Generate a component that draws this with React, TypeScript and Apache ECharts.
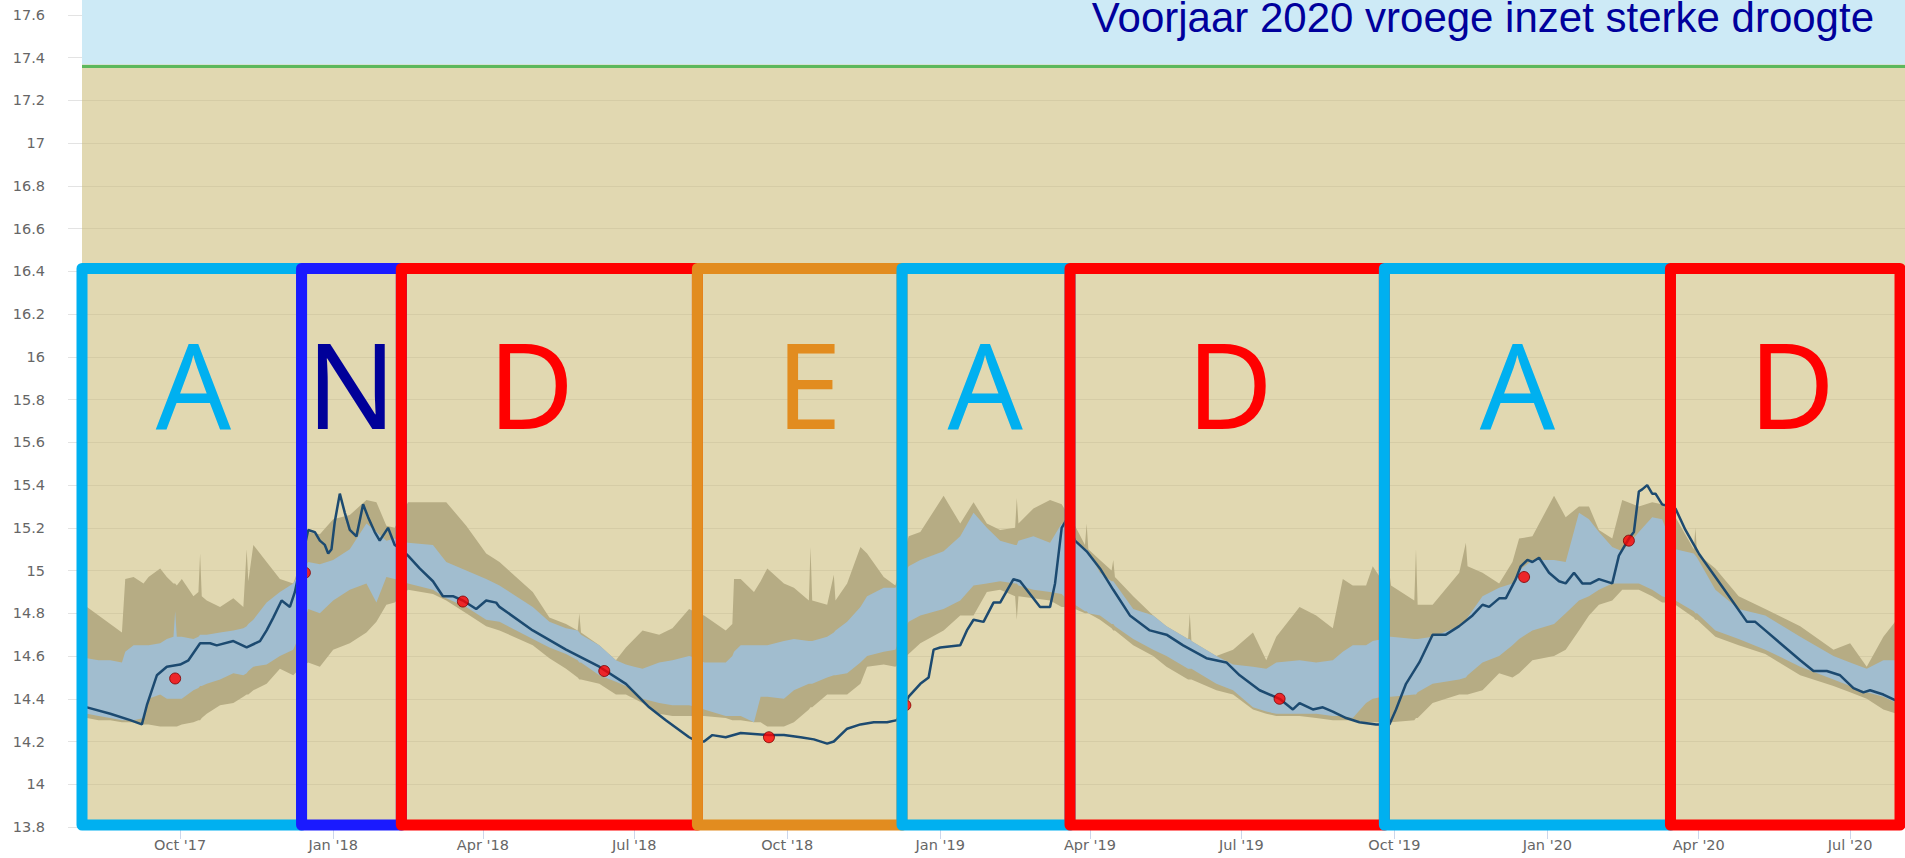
import React, { useEffect, useRef } from "react";
import * as echarts from "echarts";

// ---------- axis ranges ----------
const xStart = "2017-08-03";
const xEnd = "2020-08-03";
const yMin = 13.8;
const yMax = 17.67;
const yStep = 0.2;

// ---------- x tick labels ----------
const tickDates = [
  "2017-10-01", "2018-01-01", "2018-04-01", "2018-07-01", "2018-10-01", "2019-01-01",
  "2019-04-01", "2019-07-01", "2019-10-01", "2020-01-01", "2020-04-01", "2020-07-01",
];
const tickLabels = [
  "Oct '17", "Jan '18", "Apr '18", "Jul '18", "Oct '18", "Jan '19",
  "Apr '19", "Jul '19", "Oct '19", "Jan '20", "Apr '20", "Jul '20",
];

// ---------- reference levels ----------
const surfaceLevel = 17.357;
const aboveSurfaceFrom = 17.368;
const gapLevel = 17.364;

const titleText = "Voorjaar 2020 vroege inzet sterke droogte";

// ---------- bands: [date, outerLow, innerLow, innerHigh, outerHigh] ----------
const bandRows: [string, number, number, number, number][] = [
  ["2017-08-03", 14.31, 14.33, 14.59, 14.84],
  ["2017-08-06", 14.31, 14.33, 14.59, 14.83],
  ["2017-08-13", 14.30, 14.32, 14.58, 14.79],
  ["2017-08-20", 14.30, 14.31, 14.58, 14.75],
  ["2017-08-27", 14.29, 14.30, 14.57, 14.71],
  ["2017-08-29", 14.29, 14.30, 14.62, 14.96],
  ["2017-09-03", 14.29, 14.30, 14.65, 14.97],
  ["2017-09-09", 14.28, 14.31, 14.65, 14.94],
  ["2017-09-12", 14.28, 14.40, 14.65, 14.97],
  ["2017-09-19", 14.27, 14.42, 14.66, 15.01],
  ["2017-09-23", 14.27, 14.40, 14.68, 14.97],
  ["2017-09-27", 14.27, 14.40, 14.69, 14.94],
  ["2017-09-28", 14.27, 14.40, 14.81, 14.94],
  ["2017-09-29", 14.27, 14.40, 14.69, 14.93],
  ["2017-10-02", 14.28, 14.40, 14.69, 14.96],
  ["2017-10-09", 14.29, 14.44, 14.68, 14.88],
  ["2017-10-12", 14.30, 14.45, 14.69, 14.90],
  ["2017-10-13", 14.30, 14.46, 14.70, 15.08],
  ["2017-10-14", 14.31, 14.46, 14.70, 14.88],
  ["2017-10-17", 14.33, 14.47, 14.70, 14.86],
  ["2017-10-25", 14.37, 14.49, 14.71, 14.83],
  ["2017-11-02", 14.38, 14.52, 14.72, 14.87],
  ["2017-11-08", 14.41, 14.51, 14.73, 14.83],
  ["2017-11-10", 14.42, 14.52, 14.74, 15.10],
  ["2017-11-11", 14.42, 14.53, 14.75, 14.95],
  ["2017-11-14", 14.44, 14.55, 14.77, 15.12],
  ["2017-11-22", 14.47, 14.56, 14.85, 15.04],
  ["2017-11-30", 14.54, 14.60, 14.90, 14.96],
  ["2017-12-08", 14.51, 14.63, 14.94, 14.94],
  ["2017-12-13", 14.55, 14.72, 15.00, 15.05],
  ["2017-12-17", 14.57, 14.82, 15.04, 15.18],
  ["2017-12-24", 14.55, 14.80, 15.03, 15.17],
  ["2018-01-01", 14.63, 14.86, 15.05, 15.24],
  ["2018-01-11", 14.66, 14.91, 15.10, 15.26],
  ["2018-01-21", 14.71, 14.94, 15.22, 15.33],
  ["2018-01-27", 14.76, 14.85, 15.18, 15.32],
  ["2018-02-02", 14.84, 14.97, 15.14, 15.21],
  ["2018-02-07", 14.85, 14.96, 15.15, 15.20],
  ["2018-02-11", 14.88, 14.95, 15.14, 15.26],
  ["2018-02-15", 14.91, 14.94, 15.13, 15.32],
  ["2018-03-02", 14.89, 14.91, 15.12, 15.32],
  ["2018-03-10", 14.86, 14.87, 15.04, 15.32],
  ["2018-03-22", 14.80, 14.83, 15.00, 15.21],
  ["2018-04-03", 14.74, 14.77, 14.96, 15.08],
  ["2018-04-11", 14.72, 14.76, 14.93, 15.04],
  ["2018-05-01", 14.65, 14.68, 14.83, 14.90],
  ["2018-05-11", 14.59, 14.64, 14.76, 14.78],
  ["2018-05-21", 14.54, 14.61, 14.73, 14.75],
  ["2018-05-28", 14.50, 14.58, 14.72, 14.72],
  ["2018-05-29", 14.49, 14.57, 14.71, 14.80],
  ["2018-05-30", 14.49, 14.57, 14.70, 14.71],
  ["2018-06-10", 14.47, 14.51, 14.65, 14.65],
  ["2018-06-20", 14.42, 14.48, 14.58, 14.58],
  ["2018-06-26", 14.42, 14.46, 14.56, 14.64],
  ["2018-07-01", 14.40, 14.44, 14.55, 14.68],
  ["2018-07-06", 14.38, 14.40, 14.54, 14.72],
  ["2018-07-16", 14.33, 14.38, 14.57, 14.70],
  ["2018-07-24", 14.32, 14.37, 14.58, 14.73],
  ["2018-08-03", 14.32, 14.37, 14.60, 14.82],
  ["2018-08-08", 14.32, 14.36, 14.59, 14.80],
  ["2018-08-12", 14.32, 14.35, 14.57, 14.79],
  ["2018-08-25", 14.31, 14.32, 14.57, 14.72],
  ["2018-08-29", 14.30, 14.32, 14.60, 14.75],
  ["2018-08-30", 14.30, 14.32, 14.62, 14.96],
  ["2018-09-03", 14.30, 14.32, 14.65, 14.96],
  ["2018-09-11", 14.29, 14.29, 14.65, 14.90],
  ["2018-09-15", 14.29, 14.41, 14.65, 14.95],
  ["2018-09-19", 14.27, 14.41, 14.65, 15.01],
  ["2018-09-29", 14.27, 14.40, 14.67, 14.94],
  ["2018-10-05", 14.29, 14.44, 14.68, 14.92],
  ["2018-10-14", 14.35, 14.47, 14.67, 14.86],
  ["2018-10-15", 14.36, 14.47, 14.67, 15.11],
  ["2018-10-16", 14.36, 14.47, 14.67, 14.86],
  ["2018-10-25", 14.42, 14.50, 14.69, 14.84],
  ["2018-10-29", 14.42, 14.51, 14.71, 14.98],
  ["2018-10-30", 14.42, 14.51, 14.72, 14.86],
  ["2018-11-06", 14.42, 14.52, 14.76, 14.94],
  ["2018-11-14", 14.47, 14.57, 14.83, 15.11],
  ["2018-11-18", 14.55, 14.60, 14.88, 15.08],
  ["2018-11-28", 14.56, 14.62, 14.92, 14.97],
  ["2018-12-05", 14.55, 14.63, 14.92, 14.93],
  ["2018-12-09", 14.58, 14.70, 14.97, 15.05],
  ["2018-12-13", 14.61, 14.76, 15.02, 15.16],
  ["2018-12-20", 14.66, 14.79, 15.05, 15.18],
  ["2019-01-03", 14.72, 14.82, 15.09, 15.35],
  ["2019-01-13", 14.79, 14.86, 15.16, 15.22],
  ["2019-01-21", 14.79, 14.93, 15.27, 15.32],
  ["2019-01-29", 14.90, 14.94, 15.20, 15.22],
  ["2019-02-06", 14.91, 14.95, 15.14, 15.19],
  ["2019-02-15", 14.88, 14.94, 15.12, 15.20],
  ["2019-02-16", 14.77, 14.94, 15.12, 15.34],
  ["2019-02-17", 14.88, 14.93, 15.14, 15.22],
  ["2019-02-26", 14.87, 14.91, 15.16, 15.29],
  ["2019-03-08", 14.86, 14.90, 15.13, 15.33],
  ["2019-03-15", 14.83, 14.89, 15.22, 15.31],
  ["2019-03-19", 14.83, 14.86, 15.18, 15.26],
  ["2019-03-23", 14.82, 14.84, 15.15, 15.21],
  ["2019-03-29", 14.80, 14.81, 15.10, 15.12],
  ["2019-03-30", 14.80, 14.81, 15.10, 15.22],
  ["2019-03-31", 14.80, 14.80, 15.09, 15.10],
  ["2019-04-07", 14.77, 14.79, 14.99, 15.05],
  ["2019-04-14", 14.73, 14.75, 14.95, 15.00],
  ["2019-04-15", 14.72, 14.75, 14.95, 15.05],
  ["2019-04-16", 14.72, 14.74, 14.94, 14.97],
  ["2019-04-27", 14.65, 14.68, 14.82, 14.88],
  ["2019-05-09", 14.60, 14.63, 14.79, 14.79],
  ["2019-05-17", 14.55, 14.60, 14.74, 14.74],
  ["2019-05-30", 14.49, 14.54, 14.68, 14.68],
  ["2019-05-31", 14.49, 14.54, 14.68, 14.80],
  ["2019-06-01", 14.49, 14.54, 14.67, 14.67],
  ["2019-06-16", 14.44, 14.47, 14.60, 14.60],
  ["2019-06-26", 14.42, 14.44, 14.56, 14.63],
  ["2019-07-08", 14.35, 14.36, 14.55, 14.71],
  ["2019-07-16", 14.33, 14.34, 14.54, 14.58],
  ["2019-07-22", 14.32, 14.33, 14.57, 14.69],
  ["2019-08-05", 14.32, 14.33, 14.58, 14.83],
  ["2019-08-15", 14.31, 14.33, 14.57, 14.79],
  ["2019-08-25", 14.30, 14.32, 14.58, 14.73],
  ["2019-08-31", 14.30, 14.32, 14.62, 14.96],
  ["2019-09-06", 14.30, 14.31, 14.65, 14.93],
  ["2019-09-14", 14.29, 14.38, 14.65, 14.93],
  ["2019-09-18", 14.29, 14.40, 14.67, 15.02],
  ["2019-09-24", 14.29, 14.41, 14.68, 14.95],
  ["2019-09-28", 14.29, 14.41, 14.69, 14.99],
  ["2019-09-29", 14.29, 14.41, 14.69, 14.93],
  ["2019-10-13", 14.30, 14.42, 14.68, 14.86],
  ["2019-10-14", 14.31, 14.42, 14.68, 15.10],
  ["2019-10-15", 14.31, 14.43, 14.68, 14.84],
  ["2019-10-24", 14.38, 14.47, 14.69, 14.84],
  ["2019-11-09", 14.42, 14.49, 14.74, 14.99],
  ["2019-11-13", 14.42, 14.50, 14.76, 15.13],
  ["2019-11-14", 14.42, 14.51, 14.78, 15.02],
  ["2019-11-23", 14.44, 14.57, 14.88, 14.99],
  ["2019-12-03", 14.52, 14.60, 14.92, 14.94],
  ["2019-12-11", 14.50, 14.65, 14.94, 15.04],
  ["2019-12-15", 14.52, 14.68, 15.00, 15.15],
  ["2019-12-23", 14.58, 14.72, 15.05, 15.16],
  ["2020-01-05", 14.60, 14.75, 15.05, 15.35],
  ["2020-01-12", 14.63, 14.80, 15.04, 15.25],
  ["2020-01-20", 14.72, 14.86, 15.27, 15.30],
  ["2020-01-26", 14.79, 14.88, 15.24, 15.30],
  ["2020-02-01", 14.84, 14.91, 15.18, 15.19],
  ["2020-02-09", 14.86, 14.94, 15.11, 15.15],
  ["2020-02-15", 14.91, 14.94, 15.09, 15.33],
  ["2020-02-25", 14.91, 14.94, 15.18, 15.30],
  ["2020-03-04", 14.88, 14.91, 15.25, 15.32],
  ["2020-03-10", 14.85, 14.88, 15.24, 15.31],
  ["2020-03-14", 14.85, 14.87, 15.16, 15.27],
  ["2020-03-18", 14.84, 14.86, 15.10, 15.25],
  ["2020-03-29", 14.78, 14.81, 15.08, 15.10],
  ["2020-03-30", 14.77, 14.80, 15.07, 15.20],
  ["2020-03-31", 14.77, 14.80, 15.06, 15.08],
  ["2020-04-11", 14.69, 14.72, 14.91, 15.01],
  ["2020-04-25", 14.65, 14.68, 14.82, 14.88],
  ["2020-05-11", 14.61, 14.63, 14.79, 14.82],
  ["2020-06-01", 14.51, 14.55, 14.69, 14.74],
  ["2020-06-21", 14.46, 14.49, 14.60, 14.63],
  ["2020-07-01", 14.43, 14.46, 14.57, 14.66],
  ["2020-07-11", 14.40, 14.43, 14.54, 14.55],
  ["2020-07-21", 14.35, 14.41, 14.58, 14.69],
  ["2020-07-29", 14.33, 14.38, 14.58, 14.77],
  ["2020-08-03", 14.32, 14.37, 14.59, 14.83],
];

// ---------- measured groundwater level ----------
const levelRows: [string, number][] = [
  ["2017-08-03", 14.37], ["2017-08-06", 14.36], ["2017-08-20", 14.33], ["2017-09-01", 14.30],
  ["2017-09-08", 14.28], ["2017-09-11", 14.37], ["2017-09-17", 14.51], ["2017-09-23", 14.55],
  ["2017-10-01", 14.56], ["2017-10-06", 14.58], ["2017-10-13", 14.66], ["2017-10-19", 14.66],
  ["2017-10-23", 14.65], ["2017-11-02", 14.67], ["2017-11-10", 14.64], ["2017-11-18", 14.67],
  ["2017-11-22", 14.72], ["2017-11-26", 14.78], ["2017-12-01", 14.86], ["2017-12-06", 14.83],
  ["2017-12-09", 14.90], ["2017-12-13", 15.05], ["2017-12-17", 15.19], ["2017-12-21", 15.18],
  ["2017-12-24", 15.14], ["2017-12-27", 15.12], ["2017-12-29", 15.08], ["2017-12-31", 15.10],
  ["2018-01-02", 15.23], ["2018-01-05", 15.36], ["2018-01-08", 15.27], ["2018-01-11", 15.19],
  ["2018-01-15", 15.16], ["2018-01-19", 15.31], ["2018-01-22", 15.25], ["2018-01-26", 15.18],
  ["2018-01-29", 15.14], ["2018-02-03", 15.20], ["2018-02-07", 15.12], ["2018-02-11", 15.10],
  ["2018-02-15", 15.07], ["2018-02-22", 15.01], ["2018-03-02", 14.95], ["2018-03-08", 14.88],
  ["2018-03-14", 14.88], ["2018-03-20", 14.86], ["2018-03-28", 14.82], ["2018-04-03", 14.86],
  ["2018-04-09", 14.85], ["2018-04-11", 14.83], ["2018-05-01", 14.72], ["2018-05-21", 14.63],
  ["2018-06-10", 14.55], ["2018-06-26", 14.47], ["2018-07-10", 14.36], ["2018-07-20", 14.30],
  ["2018-08-03", 14.22], ["2018-08-08", 14.20], ["2018-08-12", 14.20], ["2018-08-17", 14.23],
  ["2018-08-25", 14.22], ["2018-09-03", 14.24], ["2018-09-20", 14.23], ["2018-09-29", 14.23],
  ["2018-10-09", 14.22], ["2018-10-17", 14.21], ["2018-10-25", 14.19], ["2018-10-29", 14.20],
  ["2018-11-06", 14.26], ["2018-11-14", 14.28], ["2018-11-22", 14.29], ["2018-11-30", 14.29],
  ["2018-12-06", 14.30], ["2018-12-13", 14.41], ["2018-12-20", 14.47], ["2018-12-25", 14.50],
  ["2018-12-28", 14.63], ["2019-01-01", 14.64], ["2019-01-13", 14.65], ["2019-01-17", 14.72],
  ["2019-01-21", 14.77], ["2019-01-27", 14.76], ["2019-02-02", 14.85], ["2019-02-06", 14.85],
  ["2019-02-14", 14.96], ["2019-02-18", 14.95], ["2019-03-02", 14.83], ["2019-03-08", 14.83],
  ["2019-03-11", 14.94], ["2019-03-15", 15.20], ["2019-03-18", 15.24], ["2019-03-23", 15.14],
  ["2019-03-30", 15.09], ["2019-04-07", 15.01], ["2019-04-15", 14.91], ["2019-04-25", 14.79],
  ["2019-05-07", 14.72], ["2019-05-17", 14.70], ["2019-05-27", 14.65], ["2019-06-10", 14.59],
  ["2019-06-22", 14.57], ["2019-06-30", 14.51], ["2019-07-12", 14.44], ["2019-07-24", 14.40],
  ["2019-08-01", 14.35], ["2019-08-05", 14.38], ["2019-08-13", 14.35], ["2019-08-19", 14.36],
  ["2019-08-25", 14.34], ["2019-09-02", 14.31], ["2019-09-10", 14.29], ["2019-09-20", 14.28],
  ["2019-09-28", 14.28], ["2019-10-02", 14.35], ["2019-10-08", 14.47], ["2019-10-16", 14.57],
  ["2019-10-24", 14.70], ["2019-11-01", 14.70], ["2019-11-09", 14.74], ["2019-11-17", 14.79],
  ["2019-11-23", 14.84], ["2019-11-27", 14.83], ["2019-12-03", 14.87], ["2019-12-07", 14.87],
  ["2019-12-13", 14.96], ["2019-12-16", 15.02], ["2019-12-20", 15.05], ["2019-12-23", 15.04],
  ["2019-12-27", 15.06], ["2020-01-02", 14.99], ["2020-01-08", 14.95], ["2020-01-12", 14.94],
  ["2020-01-17", 14.99], ["2020-01-22", 14.94], ["2020-01-27", 14.94], ["2020-02-01", 14.96],
  ["2020-02-09", 14.94], ["2020-02-13", 15.07], ["2020-02-19", 15.15], ["2020-02-22", 15.18],
  ["2020-02-25", 15.37], ["2020-02-27", 15.38], ["2020-03-01", 15.40], ["2020-03-04", 15.36],
  ["2020-03-06", 15.36], ["2020-03-10", 15.31], ["2020-03-14", 15.30], ["2020-03-18", 15.29],
  ["2020-03-24", 15.19], ["2020-04-01", 15.08], ["2020-04-11", 14.97], ["2020-04-21", 14.86],
  ["2020-04-30", 14.76], ["2020-05-05", 14.76], ["2020-05-11", 14.72], ["2020-05-20", 14.66],
  ["2020-06-01", 14.58], ["2020-06-09", 14.53], ["2020-06-17", 14.53], ["2020-06-25", 14.51],
  ["2020-07-03", 14.45], ["2020-07-09", 14.43], ["2020-07-13", 14.44], ["2020-07-21", 14.42],
  ["2020-07-29", 14.39], ["2020-08-03", 14.37],
];

// ---------- manual measurements ----------
const manualRows: [string, number][] = [
  ["2017-09-28", 14.495], ["2017-12-15", 14.99], ["2018-03-20", 14.855],
  ["2018-06-13", 14.53], ["2018-09-20", 14.22], ["2018-12-11", 14.37],
  ["2019-07-24", 14.40], ["2019-12-18", 14.97], ["2020-02-19", 15.14],
];

// ---------- annotation boxes ----------
const boxStarts = ["2017-08-03", "2017-12-13", "2018-02-11", "2018-08-08", "2018-12-09", "2019-03-20", "2019-09-25", "2020-03-15"];
const boxEnds = ["2017-12-13", "2018-02-11", "2018-08-08", "2018-12-09", "2019-03-20", "2019-09-25", "2020-03-15", "2020-07-31"];
const boxColors = ["#00b0f0", "#1a1aff", "#ff0000", "#e28c1f", "#00b0f0", "#ff0000", "#00b0f0", "#ff0000"];
const boxTop = 16.414;
const boxBottom = 13.809;
const boxLetters = ["A", "N", "D", "E", "A", "D", "A", "D"];
const letterDates = ["2017-10-09", "2018-01-12", "2018-04-30", "2018-10-14", "2019-01-28", "2019-06-24", "2019-12-14", "2020-05-27"];
const letterColors = ["#00b0f0", "#000099", "#ff0000", "#e28c1f", "#00b0f0", "#ff0000", "#00b0f0", "#ff0000"];
const letterLevel = 15.875;

// dates -> timestamps (UTC midnight)
const P = (s: string) => Date.parse(s + "T00:00:00Z");

function bandRenderer(lowIdx: number, highIdx: number, fill: string) {
  return (params: any, api: any) => {
    if (params.dataIndex !== 0) return null;
    const top = bandRows.map((r) => api.coord([P(r[0]), r[highIdx] as number]));
    const bottom = bandRows.map((r) => api.coord([P(r[0]), r[lowIdx] as number])).reverse();
    return {
      type: "polygon",
      silent: true,
      shape: { points: top.concat(bottom) },
      style: { fill, stroke: "none" },
    };
  };
}

function buildOption() {
  const tickVals = tickDates.map(P);
  const fmtTick = (v: number) => {
    let best = 0;
    let bd = Infinity;
    tickVals.forEach((t, i) => {
      const d = Math.abs(t - v);
      if (d < bd) { bd = d; best = i; }
    });
    return tickLabels[best];
  };
  const labelFont = "DejaVu Sans";

  return {
    animation: false,
    grid: { left: 82, right: 0, top: 0, bottom: 31, show: true, backgroundColor: "#e1d8b1", borderWidth: 0 },
    xAxis: {
      type: "value",
      min: P(xStart),
      max: P(xEnd),
      axisLine: { show: true, lineStyle: { color: "#ccd6eb", width: 1 } },
      axisTick: { show: true, customValues: tickVals, length: 12, lineStyle: { color: "#ccd6eb" } },
      axisLabel: {
        show: true, customValues: tickVals, formatter: fmtTick, margin: 10,
        color: "#666666", fontSize: 14.5, fontFamily: labelFont,
      },
      splitLine: { show: false },
    },
    yAxis: {
      type: "value",
      min: yMin,
      max: yMax,
      interval: yStep,
      axisLine: { show: false },
      axisTick: { show: true, length: 14, lineStyle: { color: "#e3e3e3" } },
      axisLabel: { margin: 37, color: "#666666", fontSize: 14.5, fontFamily: labelFont, showMaxLabel: false },
      splitLine: { show: true, lineStyle: { color: "#d5cca6", width: 1 } },
    },
    graphic: {
      elements: [
        {
          type: "text", x: 1874, y: 17, z: 100, silent: true,
          style: {
            text: titleText, fill: "#00009c", font: '42px "Liberation Sans"',
            align: "right", textAlign: "right", verticalAlign: "middle", textVerticalAlign: "middle",
          },
        },
      ],
    },
    series: [
      {
        name: "outerBand", type: "custom", silent: true, z: 2,
        renderItem: bandRenderer(1, 4, "#b6ac84"),
        encode: { x: 0, y: 1 },
        data: bandRows.map((r) => [P(r[0]), r[1]]),
        markArea: {
          silent: true, z: 1, label: { show: false },
          itemStyle: { color: "#cdeaf6" },
          data: [[{ yAxis: aboveSurfaceFrom }, { yAxis: yMax }]],
        },
        markLine: {
          silent: true, symbol: ["none", "none"], label: { show: false }, animation: false,
          data: [
            { yAxis: gapLevel, lineStyle: { color: "#ffffff", width: 1, type: "solid" } },
            { yAxis: surfaceLevel, lineStyle: { color: "#5cb85c", width: 3, type: "solid" } },
          ],
        },
      },
      {
        name: "innerBand", type: "custom", silent: true, z: 3,
        renderItem: bandRenderer(2, 3, "#a1bdcf"),
        encode: { x: 0, y: 1 },
        data: bandRows.map((r) => [P(r[0]), r[2]]),
      },
      {
        name: "groundwater", type: "line", symbol: "none", silent: true, z: 4,
        lineStyle: { color: "#1c4a70", width: 2.5 },
        data: levelRows.map((r) => [P(r[0]), r[1]]),
      },
      {
        name: "manual", type: "scatter", symbol: "circle", symbolSize: 11, silent: true, z: 5, clip: false,
        itemStyle: { color: "#ff0000", borderColor: "#7a0000", borderWidth: 1 },
        data: manualRows.map((r) => [P(r[0]), r[1]]),
        markArea: {
          silent: true, z: 20, label: { show: false },
          data: boxStarts.map((s, i) => [
            {
              xAxis: P(s), yAxis: boxTop,
              itemStyle: { color: "rgba(0,0,0,0)", borderColor: boxColors[i], borderWidth: 11, borderJoin: "round" },
            },
            { xAxis: P(boxEnds[i]), yAxis: boxBottom },
          ]),
        },
      },
      {
        name: "letters", type: "scatter", symbolSize: 1, silent: true, z: 30, clip: false,
        itemStyle: { color: "rgba(0,0,0,0)" },
        label: {
          show: true, position: "inside", formatter: "{b}", fontSize: 118,
          fontFamily: "Noto Sans", fontWeight: "normal", textBorderWidth: 0, opacity: 1,
        },
        data: boxLetters.map((l, i) => ({
          name: l, value: [P(letterDates[i]), letterLevel], label: { color: letterColors[i] },
        })),
      },
    ],
  };
}

export default function App() {
  const ref = useRef<HTMLDivElement>(null);
  useEffect(() => {
    if (!ref.current) return;
    const chart = echarts.init(ref.current, null, { renderer: "svg" });
    chart.setOption(buildOption() as any);
    return () => chart.dispose();
  }, []);
  return (
    <div
      ref={ref}
      style={{ position: "fixed", left: 0, top: 0, width: 1905, height: 858, background: "#ffffff" }}
    />
  );
}
